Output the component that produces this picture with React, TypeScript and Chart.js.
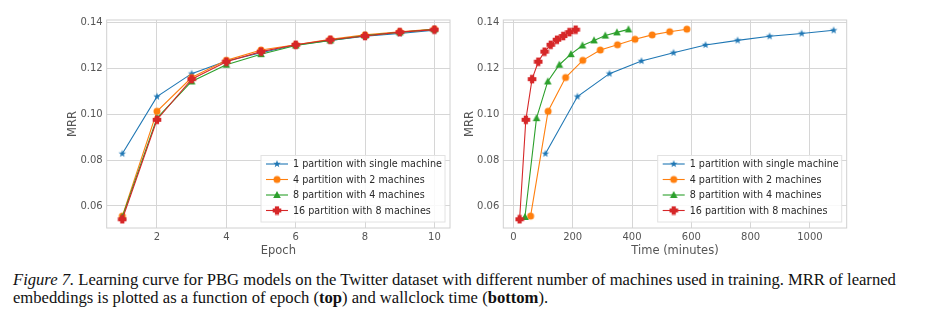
import React, { useEffect, useRef } from "react";
import { Chart, registerables } from "chart.js";
Chart.register(...registerables);

const epochs = [1, 2, 3, 4, 5, 6, 7, 8, 9, 10];
const seriesNames = [
  "1 partition with single machine",
  "4 partition with 2 machines",
  "8 partition with 4 machines",
  "16 partition with 8 machines",
];
const mrr1 = [0.0828, 0.1077, 0.1177, 0.1232, 0.1268, 0.1302, 0.1322, 0.1340, 0.1352, 0.1366];
const mrr4 = [0.0556, 0.1013, 0.1160, 0.1235, 0.1280, 0.1303, 0.1327, 0.1346, 0.1360, 0.1371];
const mrr8 = [0.0552, 0.0983, 0.1143, 0.1216, 0.1262, 0.1300, 0.1322, 0.1343, 0.1357, 0.1370];
const mrr16 = [0.0542, 0.0976, 0.1153, 0.1229, 0.1273, 0.1303, 0.1325, 0.1341, 0.1358, 0.1369];
const time1 = [108, 216, 324, 432, 540, 648, 756, 864, 972, 1080];
const time4 = [58, 117, 176, 234, 293, 351, 410, 468, 527, 585];
const time8 = [39, 78, 116, 155, 194, 233, 272, 310, 349, 388];
const time16 = [21, 42, 63, 84, 105, 126, 147, 168, 189, 210];
const yTicks = [0.06, 0.08, 0.1, 0.12, 0.14];
const epochTicks = [2, 4, 6, 8, 10];
const timeTicks = [0, 200, 400, 600, 800, 1000];

const colors = ["#1f77b4", "#ff7f0e", "#2ca02c", "#d62728"];
const markerKinds = ["star", "circle", "triangle", "plus"];

function makeMarker(kind: string, color: string): HTMLCanvasElement {
  const c = document.createElement("canvas");
  c.width = 10;
  c.height = 10;
  const g = c.getContext("2d")!;
  g.fillStyle = color;
  g.beginPath();
  const cx = 5, cy = 5;
  if (kind === "star") {
    const ro = 3.9, ri = 1.6;
    for (let i = 0; i < 10; i++) {
      const r = i % 2 === 0 ? ro : ri;
      const a = -Math.PI / 2 + (i * Math.PI) / 5;
      const px = cx + r * Math.cos(a), py = cy + r * Math.sin(a);
      if (i === 0) g.moveTo(px, py); else g.lineTo(px, py);
    }
    g.closePath();
  } else if (kind === "circle") {
    g.arc(cx, cy, 3.5, 0, Math.PI * 2);
  } else if (kind === "triangle") {
    g.moveTo(cx, cy - 3.9);
    g.lineTo(cx + 3.8, cy + 2.9);
    g.lineTo(cx - 3.8, cy + 2.9);
    g.closePath();
  } else {
    const a = 4.3, b = 2.1;
    g.moveTo(cx - b, cy - a);
    g.lineTo(cx + b, cy - a);
    g.lineTo(cx + b, cy - b);
    g.lineTo(cx + a, cy - b);
    g.lineTo(cx + a, cy + b);
    g.lineTo(cx + b, cy + b);
    g.lineTo(cx + b, cy + a);
    g.lineTo(cx - b, cy + a);
    g.lineTo(cx - b, cy + b);
    g.lineTo(cx - a, cy + b);
    g.lineTo(cx - a, cy - b);
    g.lineTo(cx - b, cy - b);
    g.closePath();
  }
  g.fill();
  return c;
}

const FONT = "'DejaVu Sans', sans-serif";

const framePlugin = {
  id: "frame",
  beforeDatasetsDraw(chart: any) {
    const { ctx, chartArea: a } = chart;
    ctx.save();
    ctx.strokeStyle = "#d0d0d0";
    ctx.lineWidth = 1;
    ctx.strokeRect(a.left, a.top, a.right - a.left, a.bottom - a.top);
    ctx.restore();
  },
};

function makeLegendPlugin(markers: HTMLCanvasElement[]) {
  return {
    id: "boxLegend",
    afterDraw(chart: any) {
      const { ctx, chartArea: a } = chart;
      const w = 184, h = 66.5;
      const x = a.right - 5 - w;
      const y = a.bottom - 6 - h;
      ctx.save();
      ctx.fillStyle = "rgba(255,255,255,0.85)";
      ctx.strokeStyle = "#e2e2e2";
      ctx.lineWidth = 1;
      ctx.fillRect(x, y, w, h);
      ctx.strokeRect(x, y, w, h);
      ctx.font = `9.6px ${FONT}`;
      ctx.textBaseline = "middle";
      for (let i = 0; i < seriesNames.length; i++) {
        const cy = y + 8.5 + i * 15.5;
        ctx.strokeStyle = colors[i];
        ctx.lineWidth = 1.1;
        ctx.beginPath();
        ctx.moveTo(x + 5, cy);
        ctx.lineTo(x + 27, cy);
        ctx.stroke();
        const m = markers[i];
        ctx.drawImage(m, x + 16 - m.width / 2, cy - m.height / 2);
        ctx.fillStyle = "#2a2a2a";
        ctx.fillText(seriesNames[i], x + 32, cy + 0.5);
      }
      ctx.restore();
    },
  };
}

type Cfg = {
  xs: number[][];
  xTicks: number[];
  xMin: number;
  xMax: number;
  xTitle: string;
  yAxisWidth: number;
  padRight: number;
  yTitlePad: number;
};

function LineChart(props: Cfg) {
  const ref = useRef<HTMLCanvasElement>(null);
  useEffect(() => {
    const markers = colors.map((c, i) => makeMarker(markerKinds[i], c));
    const ys = [mrr1, mrr4, mrr8, mrr16];
    const datasets = ys.map((arr, i) => ({
      label: seriesNames[i],
      data: arr.map((v, j) => ({ x: props.xs[i][j], y: v })),
      borderColor: colors[i],
      backgroundColor: colors[i],
      borderWidth: 1.1,
      pointStyle: markers[i] as any,
      pointRadius: 4,
      tension: 0,
      order: 3 - i,
    }));
    const tickFont = { family: FONT, size: 10 };
    const titleFont = { family: FONT, size: 11.5 };
    const chart = new Chart(ref.current!, {
      type: "line",
      data: { datasets },
      plugins: [framePlugin, makeLegendPlugin(markers)],
      options: {
        animation: false,
        responsive: false,
        maintainAspectRatio: false,
        layout: { autoPadding: false, padding: { left: 0, top: 10, right: props.padRight, bottom: 0 } } as any,
        plugins: { legend: { display: false }, tooltip: { enabled: false } },
        scales: {
          x: {
            type: "linear",
            min: props.xMin,
            max: props.xMax,
            afterBuildTicks: (s: any) => {
              s.ticks = props.xTicks.map((v) => ({ value: v }));
            },
            afterFit: (s: any) => {
              s.height = 32;
            },
            grid: { color: "#d6d6d6", drawTicks: false, lineWidth: 1 },
            border: { display: false },
            ticks: { padding: 3, color: "#555", font: tickFont, maxRotation: 0, callback: (v: any) => String(v) },
            title: { display: true, text: props.xTitle, color: "#555", font: titleFont, padding: { top: 0, bottom: 2.4 } },
          },
          y: {
            type: "linear",
            min: 0.0504,
            max: 0.1411,
            afterBuildTicks: (s: any) => {
              s.ticks = yTicks.map((v) => ({ value: v }));
            },
            afterFit: (s: any) => {
              s.width = props.yAxisWidth;
            },
            grid: { color: "#d6d6d6", drawTicks: false, lineWidth: 1 },
            border: { display: false },
            ticks: { padding: 4, color: "#555", font: tickFont, callback: (v: any) => Number(v).toFixed(2) },
            title: { display: true, text: "MRR", color: "#555", font: titleFont, padding: { top: props.yTitlePad, bottom: 0 } },
          },
        },
      } as any,
    });
    return () => chart.destroy();
  }, []);
  return <canvas ref={ref} width={400} height={250} style={{ width: 400, height: 250, display: "block" }} />;
}

export default function App() {
  return (
    <div style={{ position: "absolute", left: 0, top: 0, width: 925, height: 328, background: "#fff", overflow: "hidden" }}>
      <div style={{ position: "absolute", left: 60, top: 10 }}>
        <LineChart
          xs={[epochs, epochs, epochs, epochs]}
          xTicks={epochTicks}
          xMin={0.55}
          xMax={10.45}
          xTitle="Epoch"
          yAxisWidth={46.7}
          padRight={10}
          yTitlePad={6.1}
        />
      </div>
      <div style={{ position: "absolute", left: 460, top: 10 }}>
        <LineChart
          xs={[time1, time4, time8, time16]}
          xTicks={timeTicks}
          xMin={-34}
          xMax={1124}
          xTitle="Time (minutes)"
          yAxisWidth={43.3}
          padRight={13.3}
          yTitlePad={3.1}
        />
      </div>
      <div
        style={{
          position: "absolute",
          left: 13,
          top: 271,
          fontFamily: "'Liberation Serif', 'Times New Roman', serif",
          fontSize: 16.6,
          lineHeight: "17.5px",
          color: "#111",
          whiteSpace: "nowrap",
        }}
      >
        <div>
          <i>Figure 7.</i> Learning curve for PBG models on the Twitter dataset with different number of machines used in training. MRR of learned
        </div>
        <div>
          embeddings is plotted as a function of epoch (<b>top</b>) and wallclock time (<b>bottom</b>).
        </div>
      </div>
    </div>
  );
}
